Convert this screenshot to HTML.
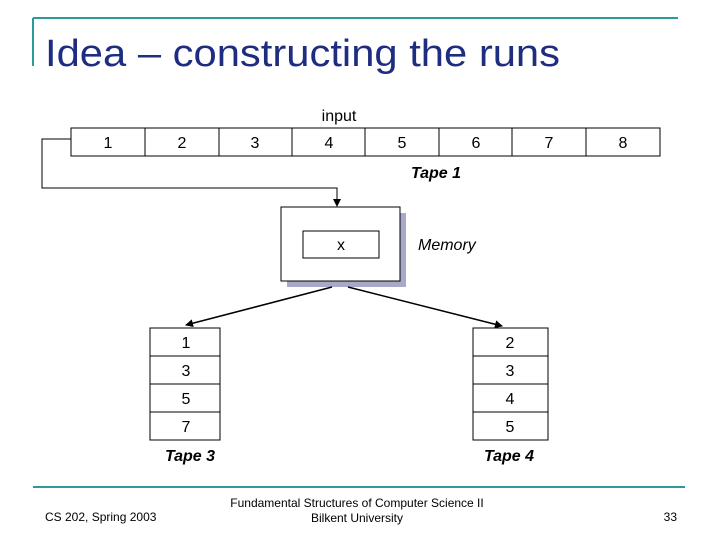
<!DOCTYPE html>
<html><head><style>
body{margin:0;background:#fff;}
svg text{font-family:"Liberation Sans",Arial,sans-serif;}
</style></head><body>
<svg width="720" height="540" xmlns="http://www.w3.org/2000/svg">
<defs><marker id="a" markerWidth="8" markerHeight="8" refX="7" refY="4" orient="auto" markerUnits="userSpaceOnUse"><path d="M0,0 L8,4 L0,8 z" fill="#000"/></marker></defs>
<line x1="33" y1="18" x2="678" y2="18" stroke="#2a9a9a" stroke-width="2"/>
<line x1="33" y1="18" x2="33" y2="66" stroke="#2a9a9a" stroke-width="2"/>
<text x="45" y="66" font-size="38" fill="#1f2d80" textLength="515" lengthAdjust="spacingAndGlyphs">Idea – constructing the runs</text>
<text x="339" y="121" font-size="16" text-anchor="middle">input</text>
<rect x="71" y="128" width="589" height="28" fill="#fff" stroke="#000"/>
<g stroke="#000"><line x1="145" y1="128" x2="145" y2="156"/><line x1="219" y1="128" x2="219" y2="156"/><line x1="292" y1="128" x2="292" y2="156"/><line x1="365" y1="128" x2="365" y2="156"/><line x1="439" y1="128" x2="439" y2="156"/><line x1="512" y1="128" x2="512" y2="156"/><line x1="586" y1="128" x2="586" y2="156"/></g>
<g font-size="16" text-anchor="middle"><text x="108" y="148">1</text><text x="182" y="148">2</text><text x="255" y="148">3</text><text x="329" y="148">4</text><text x="402" y="148">5</text><text x="476" y="148">6</text><text x="549" y="148">7</text><text x="623" y="148">8</text></g>
<text x="436" y="178" font-size="16" font-weight="bold" font-style="italic" text-anchor="middle">Tape 1</text>
<polyline points="71,139 42,139 42,188 337,188 337,206" fill="none" stroke="#000" marker-end="url(#a)"/>
<rect x="287" y="213" width="119" height="74" fill="#a8a8c8"/>
<rect x="281" y="207" width="119" height="74" fill="#fff" stroke="#000"/>
<rect x="303" y="231" width="76" height="27" fill="#fff" stroke="#000"/>
<text x="341" y="250" font-size="16" text-anchor="middle">x</text>
<text x="418" y="250" font-size="16" font-style="italic">Memory</text>
<line x1="332" y1="287" x2="186" y2="325" stroke="#000" stroke-width="1.5" marker-end="url(#a)"/>
<line x1="348" y1="287" x2="502" y2="326" stroke="#000" stroke-width="1.5" marker-end="url(#a)"/>
<g stroke="#000" fill="#fff">
<rect x="150" y="328" width="70" height="112"/><line x1="150" y1="356" x2="220" y2="356"/><line x1="150" y1="384" x2="220" y2="384"/><line x1="150" y1="412" x2="220" y2="412"/>
<rect x="473" y="328" width="75" height="112"/><line x1="473" y1="356" x2="548" y2="356"/><line x1="473" y1="384" x2="548" y2="384"/><line x1="473" y1="412" x2="548" y2="412"/>
</g>
<g font-size="16" text-anchor="middle"><text x="186" y="348">1</text><text x="186" y="376">3</text><text x="186" y="404">5</text><text x="186" y="432">7</text>
<text x="510" y="348">2</text><text x="510" y="376">3</text><text x="510" y="404">4</text><text x="510" y="432">5</text></g>
<text x="190" y="461" font-size="16" font-weight="bold" font-style="italic" text-anchor="middle">Tape 3</text>
<text x="509" y="461" font-size="16" font-weight="bold" font-style="italic" text-anchor="middle">Tape 4</text>
<line x1="33" y1="487" x2="685" y2="487" stroke="#2a9a9a" stroke-width="2"/>
<text x="45" y="521" font-size="12">CS 202, Spring 2003</text>
<text x="357" y="507" font-size="12" text-anchor="middle">Fundamental Structures of Computer Science II</text>
<text x="357" y="522" font-size="12" text-anchor="middle">Bilkent University</text>
<text x="677" y="521" font-size="12" text-anchor="end">33</text>
</svg>
</body></html>
